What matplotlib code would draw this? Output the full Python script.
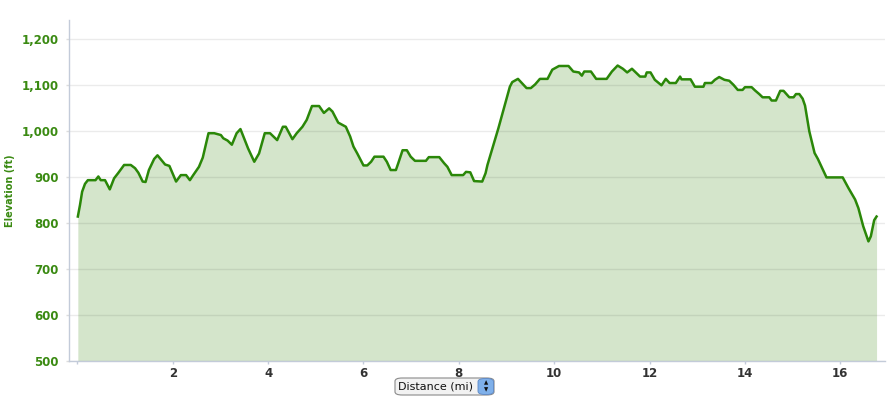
import matplotlib
matplotlib.use('Agg')
import matplotlib.pyplot as plt
from matplotlib.patches import FancyBboxPatch

# distance (mi) and elevation (ft)
distance = [0.01, 0.055, 0.10, 0.16, 0.22, 0.38, 0.44, 0.49, 0.58, 0.68, 0.77, 0.86,
            0.98, 1.12, 1.21, 1.28, 1.37, 1.43, 1.50, 1.61, 1.68, 1.84, 1.93, 2.07,
            2.17, 2.28, 2.36, 2.43, 2.55, 2.63, 2.75, 2.87, 3.01, 3.06, 3.15, 3.24,
            3.34, 3.42, 3.58, 3.71, 3.81, 3.93, 4.04, 4.11, 4.19, 4.31, 4.37, 4.51,
            4.60, 4.72, 4.81, 4.92, 5.07, 5.17, 5.28, 5.35, 5.47, 5.63, 5.72, 5.79,
            5.87, 6.00, 6.08, 6.16, 6.23, 6.42, 6.49, 6.57, 6.68, 6.73, 6.82, 6.91,
            6.99, 7.08, 7.31, 7.37, 7.59, 7.69, 7.76, 7.85, 8.09, 8.15, 8.24, 8.32,
            8.49, 8.56, 8.60, 8.83, 9.07, 9.12, 9.24, 9.42, 9.51, 9.60, 9.70, 9.86,
            9.96, 10.10, 10.30, 10.40, 10.52, 10.58, 10.63, 10.77, 10.88, 11.10, 11.21,
            11.33, 11.44, 11.53, 11.63, 11.80, 11.91, 11.94, 12.02, 12.11, 12.25, 12.34,
            12.42, 12.55, 12.64, 12.67, 12.86, 12.95, 13.13, 13.16, 13.30, 13.37, 13.46,
            13.57, 13.67, 13.76, 13.85, 13.95, 14.00, 14.14, 14.21, 14.30, 14.37, 14.51,
            14.56, 14.65, 14.74, 14.81, 14.93, 15.02, 15.07, 15.14, 15.21, 15.26, 15.35,
            15.46, 15.53, 15.71, 16.05, 16.17, 16.31, 16.38, 16.48, 16.59, 16.64, 16.71,
            16.76]
elevation = [814, 839, 868, 885, 893, 893, 901, 893, 893, 873, 897, 909,
             926, 926, 919, 909, 890, 889, 915, 939, 947, 927, 924, 890,
             904, 904, 893, 904, 922, 942, 995, 995, 991, 984, 979, 970,
             995, 1004, 962, 933, 951, 995, 995, 988, 980, 1009, 1009, 982,
             995, 1009, 1024, 1054, 1054, 1039, 1049, 1042, 1018, 1009, 988, 966,
             951, 925, 925, 933, 944, 944, 933, 915, 915, 930, 958, 958,
             944, 935, 935, 943, 943, 930, 922, 904, 904, 911, 910, 891,
             890, 908, 926, 1006, 1096, 1106, 1113, 1093, 1093, 1101, 1113, 1113,
             1133, 1141, 1141, 1129, 1127, 1120, 1129, 1129, 1113, 1113, 1129,
             1142, 1135, 1127, 1135, 1118, 1118, 1127, 1127, 1111, 1099, 1113,
             1104, 1104, 1118, 1112, 1112, 1096, 1096, 1104, 1104, 1111, 1117,
             1111, 1109, 1100, 1089, 1089, 1095, 1095, 1088, 1080, 1073, 1073,
             1066, 1066, 1087, 1087, 1073, 1073, 1080, 1080, 1070, 1055, 999,
             952, 939, 899, 899, 876, 851, 832, 793, 760, 771, 806,
             814]

x_ticks = [0, 2, 4, 6, 8, 10, 12, 14, 16]
x_labels = ['', '2', '4', '6', '8', '10', '12', '14', '16']
y_ticks = [500, 600, 700, 800, 900, 1000, 1100, 1200]
y_labels = ['500', '600', '700', '800', '900', '1,000', '1,100', '1,200']

line_col = '#2a8708'
fill_col = '#d4e5cb'
axis_col = '#c3cbd9'
green_txt = '#3a8a12'

fig = plt.figure(figsize=(8.9, 3.99), dpi=100)
ax = fig.add_axes([0.0775, 0.095, 0.9165, 0.855])

ax.fill_between(distance, 500, elevation, color=fill_col, lw=0, zorder=1)
ax.plot(distance, elevation, '-', color=line_col, lw=1.8, zorder=3,
        solid_joinstyle='round')

ax.set_xlim(-0.176, 16.93)
ax.set_ylim(500, 1241)

ax.set_xticks(x_ticks)
ax.set_xticklabels(x_labels)
ax.set_yticks(y_ticks)
ax.set_yticklabels(y_labels)

# grid sits over the fill, faintly visible through it
ax.grid(axis='y', color='black', alpha=0.08, lw=1)
ax.set_axisbelow(False)
for gl in ax.get_ygridlines():
    gl.set_zorder(2)

for side in ['top', 'right']:
    ax.spines[side].set_visible(False)
for side in ['left', 'bottom']:
    ax.spines[side].set_color(axis_col)
    ax.spines[side].set_linewidth(1)
    ax.spines[side].set_zorder(4)

ax.tick_params(axis='x', colors=axis_col, length=2.5, width=1, pad=1.5,
               labelcolor='#333333', labelsize=8.5)
ax.tick_params(axis='y', colors='#dddddd', length=2.5, width=1, pad=5,
               labelcolor=green_txt, labelsize=8.5)
for lab in ax.get_xticklabels() + ax.get_yticklabels():
    lab.set_fontweight('bold')

ax.set_ylabel('Elevation (ft)', color=green_txt, fontsize=7,
              fontweight='bold')
ax.yaxis.set_label_coords(-0.066, 0.5)

# "Distance (mi)" selector button under the axis
W, H = 890.0, 399.0
bx, by, bw, bh = 395 / W, (H - 395) / H, 99 / W, 17 / H
fig.patches.append(FancyBboxPatch((bx, by), bw, bh,
                                  boxstyle='round,pad=0,rounding_size=0.008',
                                  transform=fig.transFigure, fc='#f2f2f2',
                                  ec='#8a8a8a', lw=0.8))
fig.patches.append(FancyBboxPatch((478 / W, by + 0.5 / H), 15.5 / W, bh - 1 / H,
                                  boxstyle='round,pad=0,rounding_size=0.008',
                                  transform=fig.transFigure, fc='#7fb0ea',
                                  ec='#5b86c4', lw=0.6))
fig.text(436 / W, by + bh / 2, 'Distance (mi)', ha='center', va='center',
         fontsize=8, color='#111111')
fig.text(486 / W, by + bh / 2 + 3.5 / H, '\u25b2', ha='center', va='center',
         fontsize=4, color='#111111')
fig.text(486 / W, by + bh / 2 - 3.5 / H, '\u25bc', ha='center', va='center',
         fontsize=4, color='#111111')

fig.savefig('out.png', dpi=100)
